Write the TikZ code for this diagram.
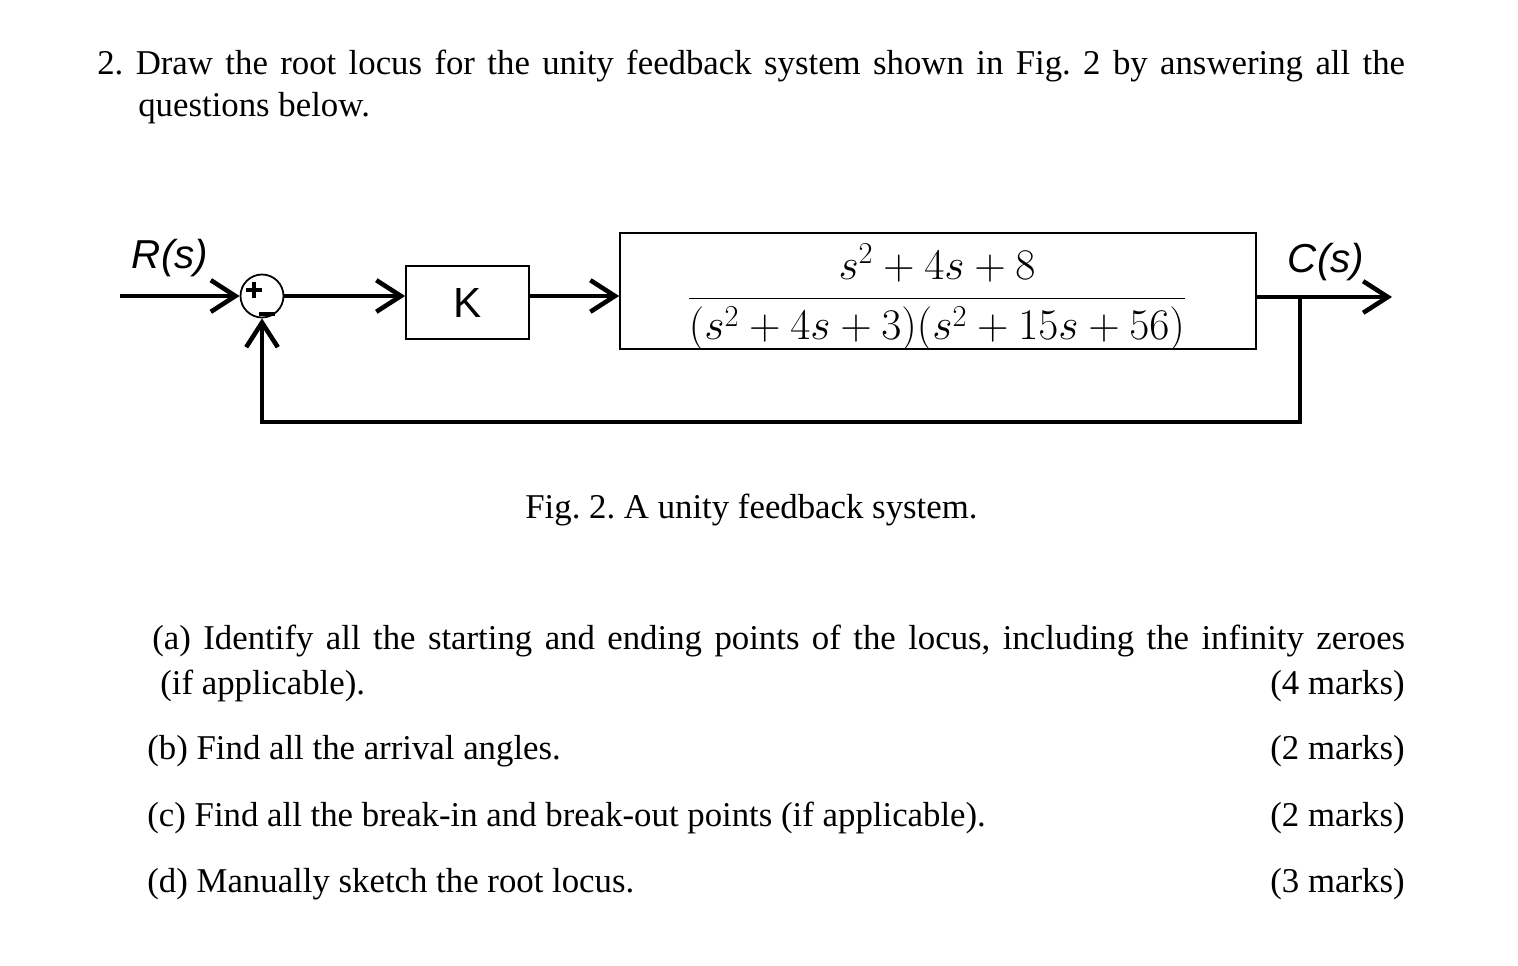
\documentclass[tikz,border=0pt]{standalone}
\usepackage{fontspec}
\setmainfont{Liberation Serif}
\newfontfamily\arialf{Liberation Sans}
\usetikzlibrary{arrows.meta}
\begin{document}
\frenchspacing
\begin{tikzpicture}[x=0.02cm,y=-0.02cm,
  txt/.style={inner sep=0pt,anchor=base west,font=\fontsize{19.8}{24}\selectfont},
  sig/.style={line width=2.6pt,-{Straight Barb[length=14pt,width=18pt,line width=2.6pt]}},
  blk/.style={draw,line width=1pt,inner sep=0pt},
  lab/.style={font=\arialf\itshape\fontsize{23}{26}\selectfont,inner sep=0pt}]
\useasboundingbox (0,0) rectangle (1518,966);
\node[txt] (l1) at (97,75) {\makebox[26.16cm][s]{2. Draw the root locus for the unity feedback system shown in Fig. 2 by answering all the}};
\node[txt] (l2) at (138,117) {questions below.};
% block diagram
\node[circle,draw,line width=1pt,minimum size=0.86cm,inner sep=0pt] (sumc) at (262,296) {};
\draw[line width=2.4pt] (246,290) -- (262,290) (254,282) -- (254,298);
\draw[line width=2.2pt] (259,314) -- (275,314);
\coordinate (in) at (120,296);
\node[lab] (R) at (170,258) {R(s)};
\node[blk,minimum width=2.46cm,minimum height=1.46cm] (K) at (467.5,302.5) {\arialf\fontsize{24}{24}\selectfont K};
\node[blk,minimum width=12.72cm,minimum height=2.32cm] (G) at (938,291) {};
\node (frac) at (937,297) {\fontsize{23.5}{28}\selectfont$\displaystyle\frac{s^2+4s+8}{(s^2+4s+3)(s^2+15s+56)}$};
\coordinate (out) at (1392,297);
\coordinate (tap) at (1300,297);
\coordinate (fb) at (1300,422);
\coordinate (fb2) at (262,422);
\node[lab] (C) at (1326,262) {C(s)};
\draw[sig] (in) -- (sumc.west);
\draw[sig] (sumc.east) -- (K.west |- sumc.east);
\draw[sig] (K.east |- sumc.east) -- (G.west |- sumc.east);
\draw[sig] (G.east |- out) -- (out);
\draw[line width=2.6pt,line cap=rect] (tap) -- (fb) -- (fb2) -- ++(0,-1);
\draw[sig] (fb2) -- (sumc.south);
\node[txt] (cap) at (525,518) {Fig. 2. A unity feedback system.};
\node[txt] (a1) at (152,649) {\makebox[25.06cm][s]{(a) Identify all the starting and ending points of the locus, including the infinity zeroes}};
\node[txt] (a2) at (160,694) {(if applicable).};
\node[txt,anchor=base east] (m1) at (1405,694) {(4 marks)};
\node[txt] (b) at (147,759) {(b) Find all the arrival angles.};
\node[txt,anchor=base east] (m2) at (1405,759) {(2 marks)};
\node[txt] (c) at (147,826) {(c) Find all the break-in and break-out points (if applicable).};
\node[txt,anchor=base east] (m3) at (1405,826) {(2 marks)};
\node[txt] (d) at (147,892) {(d) Manually sketch the root locus.};
\node[txt,anchor=base east] (m4) at (1405,892) {(3 marks)};
\end{tikzpicture}
\end{document}
